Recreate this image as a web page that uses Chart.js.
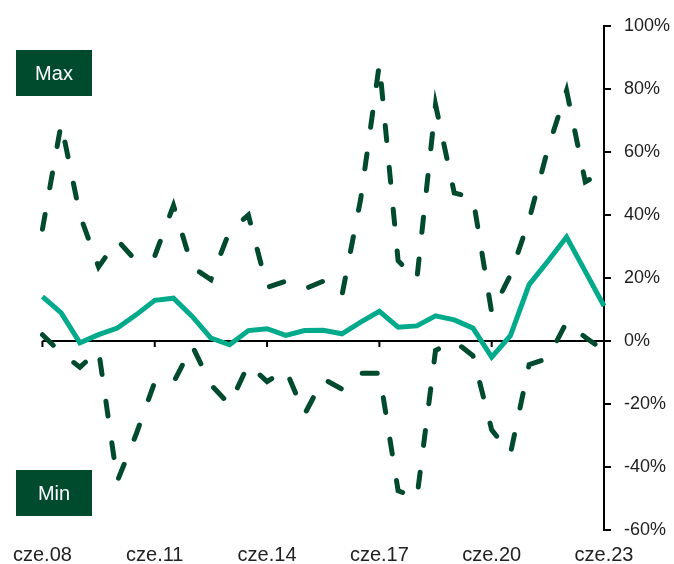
<!DOCTYPE html>
<html>
<head>
<meta charset="utf-8">
<script src="https://cdn.jsdelivr.net/npm/chart.js@4.4.1/dist/chart.umd.min.js"></script>
<style>
  html, body { margin: 0; padding: 0; background: #ffffff; }
  canvas { display: block; }
</style>
</head>
<body>
<canvas id="chart" width="674" height="564"></canvas>
<script>
// Half-year observations, June (cze) and December (gru), 2008-2023
const categories = [
  'cze.08','gru.08','cze.09','gru.09','cze.10','gru.10','cze.11','gru.11',
  'cze.12','gru.12','cze.13','gru.13','cze.14','gru.14','cze.15','gru.15',
  'cze.16','gru.16','cze.17','gru.17','cze.18','gru.18','cze.19','gru.19',
  'cze.20','gru.20','cze.21','gru.21','cze.22','gru.22','cze.23'
];

// Upper envelope (%)
const maxValues = [
  35.5, 69, 40, 23.5, 32, 25.5, 27, 43,
  23.5, 19.5, 35, 40, 17, 19, 16.5, 19,
  14.5, 45, 88, 25.5, 19.5, 75, 47, 45.5,
  9, 21, 38.5, 61, 79.5, 50.5, 54
];

// Lower envelope (%)
const minValues = [
  2, -3.8, -8.3, -3, -44.5, -29.7, -13, -13.2,
  -1.5, -13.9, -20.2, -7.4, -12.9, -9.1, -23.3, -12,
  -15.3, -10.2, -10.2, -47.5, -50, -3, 0, -4.7,
  -28.2, -35.8, -7.5, -5.5, 6, 1.2, -3
];

// Central path (%)
const midValues = [
  14.1, 8.9, -0.6, 2.0, 4.1, 8.3, 12.9, 13.6,
  7.8, 0.9, -1.2, 3.3, 3.9, 1.8, 3.3, 3.4,
  2.3, 6.0, 9.4, 4.4, 4.8, 8.0, 6.7, 4.1,
  -5.1, 1.7, 17.9, 25.3, 33.0, 22.1, 11.1
];

// Value axis
const yMin = -60;
const yMax = 100;
const yStep = 20;
// Every sixth half-year carries a label
const labelEvery = 6;

const DARK = '#004B2E';
const TEAL = '#00AA8A';
const FONT = "'Liberation Sans', Arial, sans-serif";

// Zero line with small downward ticks at the labelled dates
const zeroAxis = {
  id: 'zeroAxis',
  beforeDatasetsDraw(chart) {
    const { ctx, chartArea, scales } = chart;
    const y0 = scales.y.getPixelForValue(0);
    ctx.save();
    ctx.strokeStyle = '#000000';
    ctx.lineWidth = 2;
    ctx.beginPath();
    ctx.moveTo(chartArea.left, y0);
    ctx.lineTo(chartArea.right, y0);
    categories.forEach((c, i) => {
      if (i % labelEvery === 0) {
        const x = scales.x.getPixelForValue(i);
        ctx.moveTo(x, y0);
        ctx.lineTo(x, y0 + 6);
      }
    });
    ctx.stroke();
    ctx.restore();
  }
};

// "Max" / "Min" tags
const tags = {
  id: 'tags',
  afterDraw(chart) {
    const { ctx } = chart;
    const boxes = [
      { text: 'Max', x: 16, y: 50, w: 76, h: 46 },
      { text: 'Min', x: 16, y: 470, w: 76, h: 46 }
    ];
    ctx.save();
    boxes.forEach(b => {
      ctx.fillStyle = DARK;
      ctx.fillRect(b.x, b.y, b.w, b.h);
      ctx.fillStyle = '#ffffff';
      ctx.font = '20px ' + FONT;
      ctx.textAlign = 'center';
      ctx.textBaseline = 'middle';
      ctx.fillText(b.text, b.x + b.w / 2, b.y + b.h / 2 + 1);
    });
    ctx.restore();
  }
};

new Chart(document.getElementById('chart'), {
  type: 'line',
  data: {
    labels: categories,
    datasets: [
      {
        label: 'Max',
        data: maxValues,
        borderColor: DARK,
        borderWidth: 5,
        borderDash: [15, 27],
        borderCapStyle: 'round',
        pointRadius: 0,
        tension: 0,
        fill: false
      },
      {
        label: 'Min',
        data: minValues,
        borderColor: DARK,
        borderWidth: 5,
        borderDash: [15, 27],
        borderCapStyle: 'round',
        pointRadius: 0,
        tension: 0,
        fill: false
      },
      {
        label: 'Środek',
        data: midValues,
        borderColor: TEAL,
        borderWidth: 5,
        pointRadius: 0,
        tension: 0,
        fill: false
      }
    ]
  },
  options: {
    responsive: false,
    animation: false,
    layout: { padding: { left: 42, top: 26, right: 0, bottom: 0 } },
    plugins: {
      legend: { display: false },
      tooltip: { enabled: false }
    },
    scales: {
      x: {
        type: 'category',
        offset: false,
        grid: { display: false, drawTicks: false },
        border: { display: false },
        ticks: {
          autoSkip: false,
          maxRotation: 0,
          padding: 13,
          color: '#222222',
          font: { family: FONT, size: 20 },
          callback: (v, i) => (i % labelEvery === 0 ? categories[i] : '')
        },
        afterFit: s => { s.height = 34; }
      },
      y: {
        position: 'right',
        min: yMin,
        max: yMax,
        grid: {
          drawOnChartArea: false,
          drawTicks: true,
          tickLength: 7,
          color: '#000000',
          lineWidth: 2
        },
        border: { display: true, color: '#000000', width: 2 },
        ticks: {
          stepSize: yStep,
          padding: 13,
          color: '#222222',
          font: { family: FONT, size: 18 },
          callback: v => v + '%'
        },
        afterFit: s => { s.width = 70; }
      }
    }
  },
  plugins: [zeroAxis, tags]
});
</script>
</body>
</html>
